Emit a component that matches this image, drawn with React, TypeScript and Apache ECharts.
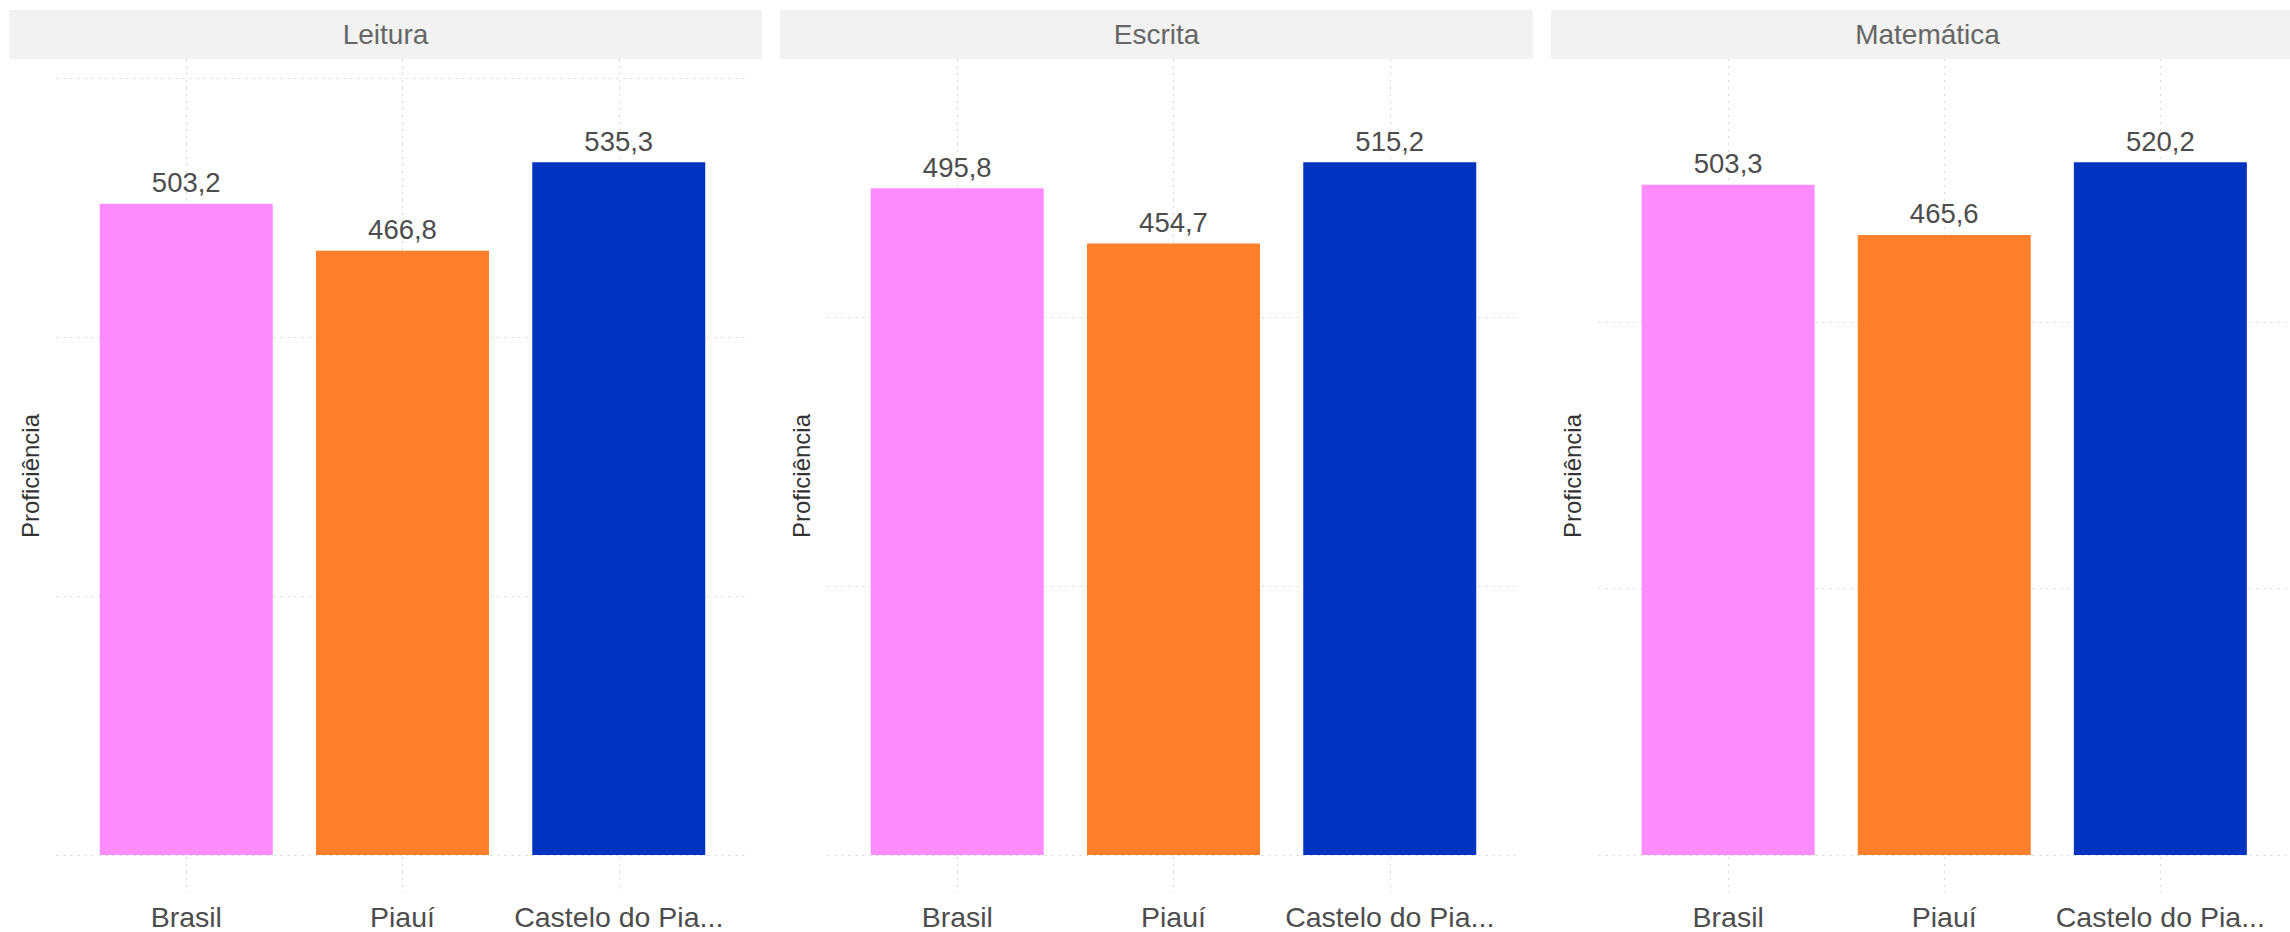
import React, { useEffect, useRef } from "react";
import * as echarts from "echarts";

const panelTitles = ["Leitura", "Escrita", "Matemática"];
const categories = ["Brasil", "Piauí", "Castelo do Pia..."];
const leitura = [503.2, 466.8, 535.3];
const escrita = [495.8, 454.7, 515.2];
const matematica = [503.3, 465.6, 520.2];
const panelValues = [leitura, escrita, matematica];
const barColors = ["#ff8cff", "#ff7f2a", "#0033c0"];
const yTicks = [0, 200, 400, 600];
const xPositions = [1, 2, 3];

const W = 2290;
const H = 932;

export default function App() {
  const ref = useRef<HTMLDivElement>(null);
  useEffect(() => {
    if (!ref.current) return;
    const chart = echarts.init(ref.current, null, { renderer: "svg" });
    const panelStep = 771;
    const stripX0 = 9;
    const stripW = 753;
    const gridLeft0 = 56.5;
    const gridW = 692;
    const gridTop = 59;
    const gridH = 834;
    const gridColor = "#d6d6d6";
    const font = "'Liberation Sans', Arial, sans-serif";

    const grids: any[] = [];
    const xAxes: any[] = [];
    const yAxes: any[] = [];
    const series: any[] = [];
    const graphics: any[] = [];

    panelValues.forEach((vals, i) => {
      const off = panelStep * i;
      const M = Math.max(...vals);
      grids.push({ left: gridLeft0 + off, top: gridTop, width: gridW, height: gridH });
      xAxes.push({
        type: "value",
        gridIndex: i,
        min: 0.4,
        max: 3.6,
        axisLine: { show: false },
        axisTick: { show: false, customValues: xPositions },
        axisLabel: {
          customValues: xPositions,
          formatter: (v: number) => categories[Math.round(v) - 1] ?? "",
          color: "#4d4d4d",
          fontSize: 28.5,
          fontFamily: font,
          margin: 9,
        },
        splitLine: { show: true, lineStyle: { color: gridColor, type: [2, 5], width: 1 } },
      });
      yAxes.push({
        type: "value",
        gridIndex: i,
        min: -0.055 * M,
        max: 1.149 * M,
        name: "Proficiência",
        nameLocation: "middle",
        nameGap: 14,
        nameTextStyle: { color: "#333333", fontSize: 24, fontFamily: font },
        axisLine: { show: false },
        axisTick: { show: false, customValues: yTicks },
        axisLabel: { show: false, customValues: yTicks },
        splitLine: { show: true, lineStyle: { color: gridColor, type: [2, 5], width: 1 } },
      });
      series.push({
        type: "bar",
        xAxisIndex: i,
        yAxisIndex: i,
        barWidth: 173,
        data: vals.map((v, j) => ({
          value: [xPositions[j], v],
          itemStyle: { color: barColors[j] },
        })),
        label: {
          show: true,
          position: "top",
          distance: 7,
          color: "#4d4d4d",
          fontSize: 27.5,
          fontFamily: font,
          formatter: (p: any) => p.value[1].toFixed(1).replace(".", ","),
        },
      });
      graphics.push({
        type: "rect",
        shape: { x: stripX0 + off, y: 10, width: stripW, height: 49 },
        style: { fill: "#f2f2f2" },
        silent: true,
        z: 0,
      });
      graphics.push({
        type: "text",
        x: stripX0 + off + stripW / 2,
        y: 34.5,
        style: {
          text: panelTitles[i],
          fill: "#666666",
          font: `28px ${font}`,
          align: "center",
          verticalAlign: "middle",
        },
        silent: true,
        z: 1,
      });
    });

    chart.setOption({
      animation: false,
      backgroundColor: "#ffffff",
      grid: grids,
      xAxis: xAxes,
      yAxis: yAxes,
      series,
      graphic: graphics,
    });
    return () => chart.dispose();
  }, []);
  return (
    <div
      ref={ref}
      style={{ position: "absolute", left: 0, top: 0, width: W, height: H }}
    />
  );
}
